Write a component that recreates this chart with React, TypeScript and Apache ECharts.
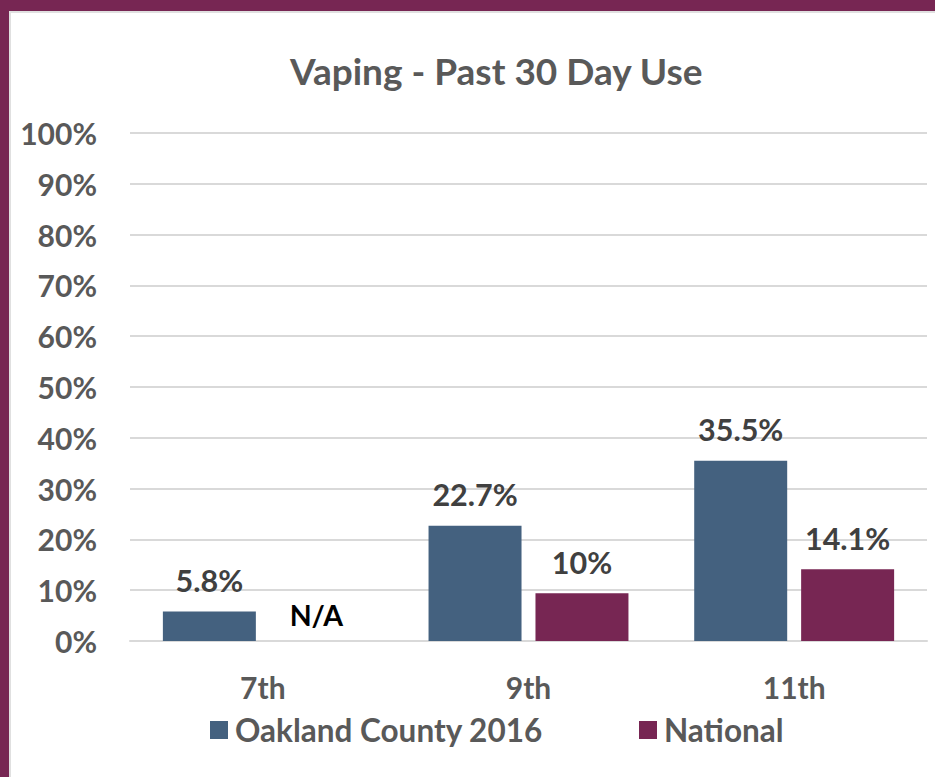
import React, { useEffect, useRef } from "react";
import * as echarts from "echarts";

const categories = ["7th", "9th", "11th"];
const oaklandValues = [5.8, 22.7, 35.5];
const nationalValues = [0, 9.4, 14.1];
const oaklandLabels = ["5.8%", "22.7%", "35.5%"];
const nationalLabels = ["N/A", "10%", "14.1%"];
const seriesNames = ["Oakland County 2016", "National"];
const chartTitle = "Vaping - Past 30 Day Use";

const FONT = "Lato, 'Open Sans', sans-serif";
const BLUE = "#44617f";
const PURPLE = "#772653";

export default function App() {
  const ref = useRef<HTMLDivElement>(null);
  useEffect(() => {
    if (!ref.current) return;
    const chart = echarts.init(ref.current, null, { renderer: "svg" });
    chart.setOption({
      animation: false,
      backgroundColor: "#ffffff",
      textStyle: { fontFamily: FONT },
      title: {
        text: chartTitle,
        left: 285,
        top: 47,
        textStyle: { fontFamily: FONT, fontSize: 37, fontWeight: "bold", color: "#595959" },
      },
      graphic: [
        { type: "rect", left: 0, top: 0, shape: { width: 935, height: 11 }, style: { fill: PURPLE }, z: 100 },
        { type: "rect", left: 0, top: 0, shape: { width: 9, height: 777 }, style: { fill: PURPLE }, z: 100 },
        { type: "rect", left: 9, top: 11, shape: { width: 926, height: 2 }, style: { fill: "#e0e0e0" }, z: 99 },
        { type: "rect", left: 9, top: 11, shape: { width: 2, height: 766 }, style: { fill: "#e0e0e0" }, z: 99 },
      ],
      legend: {
        top: 709,
        left: 205,
        itemWidth: 18,
        itemHeight: 18,
        itemGap: 96,
        icon: "rect",
        textStyle: { fontFamily: FONT, fontSize: 31.5, fontWeight: "bold", color: "#595959", padding: [0, 0, 0, 2] },
        data: seriesNames,
      },
      grid: { left: 130, right: 8, top: 133, bottom: 136, containLabel: false },
      xAxis: {
        type: "category",
        data: categories,
        axisLine: { lineStyle: { color: "#d9d9d9", width: 2 } },
        axisTick: { show: false },
        axisLabel: { margin: 31, fontFamily: FONT, fontSize: 30, fontWeight: "bold", color: "#595959" },
      },
      yAxis: {
        type: "value",
        min: 0,
        max: 100,
        interval: 10,
        axisLine: { show: false },
        axisTick: { show: false },
        splitLine: { lineStyle: { color: "#d9d9d9", width: 2 } },
        axisLabel: {
          margin: 33,
          formatter: "{value}%",
          fontFamily: FONT,
          fontSize: 30,
          fontWeight: "bold",
          color: "#595959",
        },
      },
      series: [
        {
          name: seriesNames[0],
          type: "bar",
          data: oaklandValues,
          barWidth: "35%",
          barGap: "15%",
          itemStyle: { color: BLUE },
          label: {
            show: true,
            position: "top",
            distance: 16,
            formatter: (p: any) => oaklandLabels[p.dataIndex],
            fontFamily: FONT,
            fontSize: 30.5,
            fontWeight: "bold",
            color: "#404040",
          },
        },
        {
          name: seriesNames[1],
          type: "bar",
          data: nationalValues.map((v, i) =>
            i === 0
              ? { value: v, label: { color: "#000000", fontSize: 28.5, offset: [0, 4] } }
              : v
          ),
          barWidth: "35%",
          barGap: "15%",
          itemStyle: { color: PURPLE },
          label: {
            show: true,
            position: "top",
            distance: 16,
            formatter: (p: any) => nationalLabels[p.dataIndex],
            fontFamily: FONT,
            fontSize: 30.5,
            fontWeight: "bold",
            color: "#404040",
          },
        },
      ],
    });
    return () => chart.dispose();
  }, []);
  return (
    <div
      ref={ref}
      style={{ position: "absolute", left: 0, top: 0, width: 935, height: 777 }}
    />
  );
}
